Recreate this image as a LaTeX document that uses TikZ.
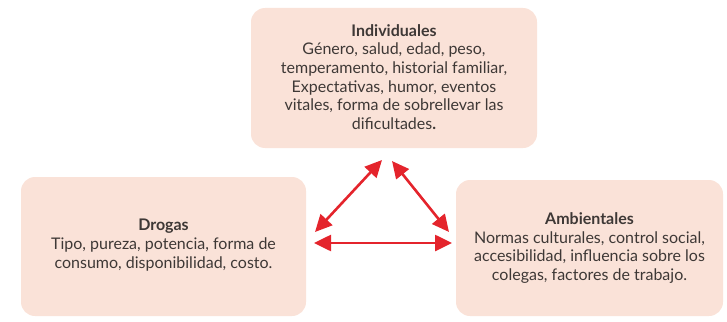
\documentclass[tikz,border=0pt]{standalone}
\usepackage{fontspec}
\setmainfont{Lato}
\usepackage{tikz}
\usetikzlibrary{arrows.meta}

\definecolor{rosa}{RGB}{250,226,216}
\definecolor{rojo}{RGB}{228,36,44}
\definecolor{gristxt}{RGB}{62,56,54}

\tikzset{
  caja/.style={fill=rosa, rounded corners=14pt, align=center, text=gristxt,
    font=\fontsize{16}{18.7}\selectfont, inner sep=0pt},
  flecha/.style={rojo, line width=2.6pt,
    {Triangle[length=17pt,width=16pt]}-{Triangle[length=17pt,width=16pt]}}
}

\begin{document}
\begin{tikzpicture}[x=1pt,y=1pt,yscale=-1,xscale=1]
    \useasboundingbox (0,0) rectangle (727,321);

    % Cajas
    \node[caja, minimum width=286pt, minimum height=140pt] (ind) at (394,78) {};
    \node[caja, minimum width=285pt, minimum height=139pt] (dro) at (163.5,246.5) {};
    \node[caja, minimum width=267pt, minimum height=136pt] (amb) at (589.5,248) {};

    % Text Node
    \node[caja, fill=none] (indtxt) at (394,77) {\textbf{Individuales}\\Género, salud, edad, peso,\\temperamento, historial familiar,\\Expectativas, humor, eventos\\vitales, forma de sobrellevar las\\dificultades\textbf{.}};
    % Text Node
    \node[caja, fill=none] (drotxt) at (163.5,245) {\textbf{Drogas}\\Tipo, pureza, potencia, forma de\\consumo, disponibilidad, costo.};
    % Text Node
    \node[caja, fill=none] (ambtxt) at (589.5,248) {\textbf{Ambientales}\\Normas culturales, control social,\\accesibilidad, influencia sobre los\\colegas, factores de trabajo.};

    % Flechas
    \coordinate (p1) at (382,160);
    \coordinate (p2) at (315,232);
    \coordinate (p3) at (392,161);
    \coordinate (p4) at (449,232);
    \coordinate (p5) at (314,243);
    \coordinate (p6) at (452,243);
    \draw[flecha] (p1) -- (p2);
    \draw[flecha] (p3) -- (p4);
    \draw[flecha] (p5) -- (p6);
\end{tikzpicture}
\end{document}
